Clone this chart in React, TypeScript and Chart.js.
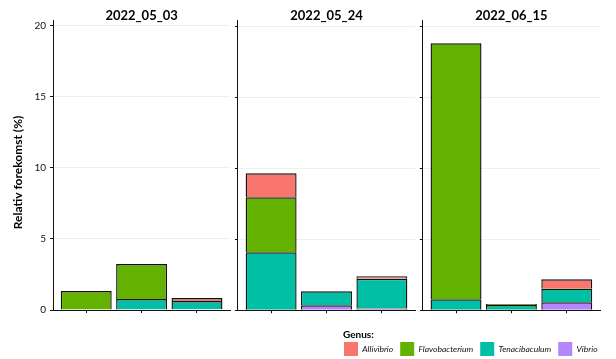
import React, { useEffect, useRef } from 'react';
import { Chart, registerables } from 'chart.js';
Chart.register(...registerables);

// ---- data ----
const facets = ['2022_05_03', '2022_05_24', '2022_06_15'];
const barSlots = [1, 2, 3];
const genera = ['Allivibrio', 'Flavobacterium', 'Tenacibaculum', 'Vibrio'];
const genusColors = ['#F8766D', '#64B200', '#00BFA5', '#B385FF'];
// relative abundance (%) per facet, per bar slot
const allivibrio = [[0, 0, 0.21], [1.69, 0, 0.17], [0, 0, 0.63]];
const flavobacterium = [[1.33, 2.47, 0], [3.87, 0, 0], [18.01, 0.07, 0.05]];
const tenacibaculum = [[0, 0.77, 0.57], [4.08, 0.99, 2.1], [0.77, 0.37, 0.94]];
const vibrio = [[0, 0, 0.06], [0, 0.35, 0.12], [0, 0, 0.56]];
const yTicks = [0, 5, 10, 15, 20];
const yTitle = 'Relativ forekomst (%)';
const legendTitle = 'Genus:';

const FONT = 'Lato, "Liberation Sans", sans-serif';
const INK = '#111111';

// ---- layout ----
const PANEL_H = 320;
const AREA_TOP = 20.7;
const AREA_BOTTOM = 310.3;
const Y_MAX = 20.373;
const panelGeom = [
  { left: 0, width: 234, yWidth: 53, right: 230.2 },
  { left: 234, width: 184, yWidth: 3.9, right: 415.1 },
  { left: 418, width: 198, yWidth: 4.8, right: 600 },
];

const panelText = {
  id: 'panelText',
  afterDraw(chart: any, _args: any, opts: any) {
    const { ctx, chartArea } = chart;
    ctx.save();
    ctx.fillStyle = '#000';
    ctx.textAlign = 'center';
    ctx.textBaseline = 'middle';
    ctx.font = `bold 13px ${FONT}`;
    ctx.fillText(opts.title, (chartArea.left + chartArea.right) / 2, 16);
    if (opts.yTitle) {
      ctx.translate(17.7, 172.5);
      ctx.rotate(-Math.PI / 2);
      ctx.font = `bold 12px ${FONT}`;
      ctx.fillText(opts.yTitle, 0, 0);
    }
    ctx.restore();
  },
};

const legendTitlePlugin = {
  id: 'legendTitleText',
  afterDraw(chart: any, _args: any, opts: any) {
    const { ctx } = chart;
    ctx.save();
    ctx.fillStyle = '#000';
    ctx.textAlign = 'left';
    ctx.textBaseline = 'middle';
    ctx.font = `bold 10px ${FONT}`;
    ctx.fillText(opts.text, 13, 10);
    ctx.restore();
  },
};

export default function App() {
  const r0 = useRef<HTMLCanvasElement>(null);
  const r1 = useRef<HTMLCanvasElement>(null);
  const r2 = useRef<HTMLCanvasElement>(null);
  const legendRef = useRef<HTMLCanvasElement>(null);
  const refs = [r0, r1, r2];

  useEffect(() => {
    const charts: Chart[] = [];
    facets.forEach((facet, f) => {
      const g = panelGeom[f];
      const canvas = refs[f].current;
      if (!canvas) return;
      // stacked bottom -> top
      const series = [
        { name: genera[3], values: vibrio[f], color: genusColors[3] },
        { name: genera[2], values: tenacibaculum[f], color: genusColors[2] },
        { name: genera[1], values: flavobacterium[f], color: genusColors[1] },
        { name: genera[0], values: allivibrio[f], color: genusColors[0] },
      ];
      const datasets = series.map((s) => ({
        label: s.name,
        data: barSlots.map((x, i) => ({ x, y: s.values[i] > 0 ? s.values[i] : null })),
        backgroundColor: s.color,
        borderColor: INK,
        borderWidth: 1.4,
        stack: 'all',
        barPercentage: 0.92,
        categoryPercentage: 1,
      }));
      const isFirst = f === 0;
      const c = new Chart(canvas, {
        type: 'bar',
        data: { datasets },
        plugins: [panelText],
        options: {
          animation: false,
          responsive: false,
          devicePixelRatio: 1,
          layout: {
            padding: {
              left: 0,
              top: AREA_TOP,
              right: g.width - (g.right - g.left),
              bottom: PANEL_H - AREA_BOTTOM - 4,
            },
          },
          plugins: {
            legend: { display: false },
            tooltip: { enabled: false },
            panelText: { title: facet, yTitle: isFirst ? yTitle : null },
          } as any,
          scales: {
            x: {
              type: 'linear',
              offset: false,
              min: 0.4,
              max: 3.6,
              afterBuildTicks: (scale: any) => {
                scale.ticks = barSlots.map((v) => ({ value: v }));
              },
              afterFit: (scale: any) => {
                scale.height = 4;
              },
              ticks: { display: false },
              grid: {
                display: true,
                offset: false,
                drawOnChartArea: false,
                drawTicks: true,
                tickLength: 3,
                tickColor: INK,
              },
              border: { display: true, color: INK, width: 1 },
            },
            y: {
              type: 'linear',
              stacked: true,
              min: 0,
              max: Y_MAX,
              afterBuildTicks: (scale: any) => {
                scale.ticks = yTicks.map((v) => ({ value: v }));
              },
              afterFit: (scale: any) => {
                scale.width = g.yWidth;
              },
              ticks: {
                display: isFirst,
                padding: 4,
                color: INK,
                font: { family: FONT, size: 10 },
              },
              grid: {
                display: true,
                color: '#efefef',
                lineWidth: 1,
                drawTicks: true,
                tickLength: 3,
                tickColor: INK,
              },
              border: { display: true, color: INK, width: 1 },
            },
          },
        } as any,
      });
      charts.push(c);
    });

    if (legendRef.current) {
      const lc = new Chart(legendRef.current, {
        type: 'bar',
        data: {
          labels: [],
          datasets: genera.map((gname, i) => ({ label: gname, data: [], backgroundColor: genusColors[i] })),
        },
        plugins: [legendTitlePlugin],
        options: {
          animation: false,
          responsive: false,
          devicePixelRatio: 1,
          layout: { padding: { left: 7, top: 10, right: 0, bottom: 0 } },
          scales: { x: { display: false }, y: { display: false } },
          plugins: {
            tooltip: { enabled: false },
            legendTitleText: { text: legendTitle },
            legend: {
              display: true,
              position: 'top',
              align: 'start',
              labels: {
                boxWidth: 14,
                boxHeight: 14,
                padding: 7,
                color: INK,
                font: { family: FONT, size: 8.5, style: 'italic' },
                generateLabels: () =>
                  genera.map((gname, i) => ({
                    text: gname,
                    fillStyle: genusColors[i],
                    strokeStyle: genusColors[i],
                    lineWidth: 0,
                    hidden: false,
                    datasetIndex: i,
                    fontColor: INK,
                  })),
              },
            },
          } as any,
        } as any,
      });
      charts.push(lc);
    }
    return () => charts.forEach((c) => c.destroy());
  }, []);

  return (
    <div
      style={{
        position: 'fixed',
        left: 0,
        top: 0,
        width: 616,
        height: 359,
        overflow: 'hidden',
        background: '#fff',
      }}
    >
      {panelGeom.map((g, i) => (
        <canvas
          key={i}
          ref={refs[i]}
          width={g.width}
          height={PANEL_H}
          style={{ position: 'absolute', left: g.left, top: 0, width: g.width, height: PANEL_H }}
        />
      ))}
      <canvas
        ref={legendRef}
        width={286}
        height={80}
        style={{ position: 'absolute', left: 330, top: 325, width: 286, height: 80 }}
      />
    </div>
  );
}
